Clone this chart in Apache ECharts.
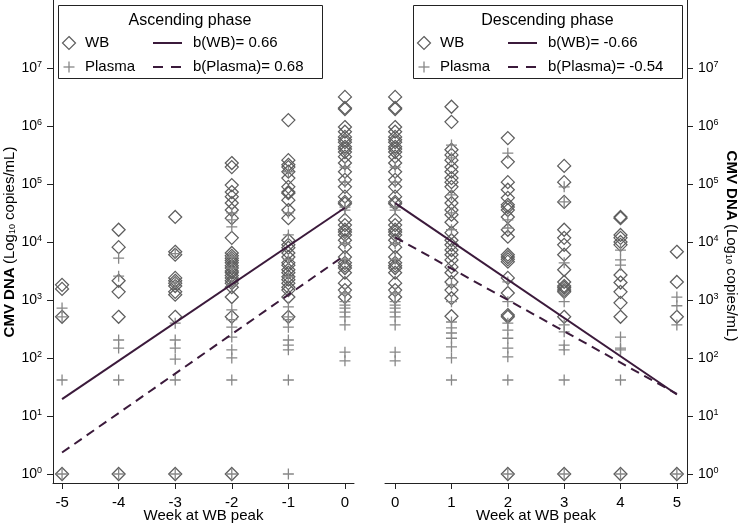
<!DOCTYPE html>
<html><head><meta charset="utf-8">
<script src="https://cdn.jsdelivr.net/npm/echarts@6/dist/echarts.min.js"></script>
<style>html,body{margin:0;padding:0;background:#fff}#c{width:740px;height:525px}</style>
</head><body><div id="c"></div>
<script>
// ---- data (log10 copies/mL), one inner array per week ----
const weeksAsc = [-5, -4, -3, -2, -1, 0];
const weeksDesc = [0, 1, 2, 3, 4, 5];
const yTickExps = [0, 1, 2, 3, 4, 5, 6, 7];

const wbWeek0 = [6.5, 6.31, 6.29, 5.98, 5.9, 5.81, 5.76, 5.72, 5.64, 5.6, 5.55, 5.47, 5.36, 5.21, 5.07, 4.95, 4.78, 4.69, 4.66, 4.38, 4.29, 4.21, 4.17, 4.12, 4.03, 3.91, 3.74, 3.64, 3.59, 3.55, 3.47, 3.29, 3.17, 3.05];
const plasmaWeek0 = [5.29, 5.03, 4.6, 4.55, 3.97, 3.7, 3.12, 2.97, 2.91, 2.86, 2.79, 2.71, 2.57, 2.1, 1.95];

const wbAsc = [
  [3.26, 3.19, 2.71, 0],
  [4.21, 3.91, 3.33, 3.14, 2.71, 0],
  [4.43, 3.83, 3.78, 3.38, 3.33, 3.29, 3.24, 3.14, 3.09, 2.71, 0],
  [5.36, 5.29, 4.98, 4.86, 4.78, 4.67, 4.55, 4.41, 4.07, 3.81, 3.76, 3.72, 3.68, 3.64, 3.59, 3.55, 3.5, 3.47, 3.42, 3.38, 3.33, 3.29, 3.22, 3.05, 2.71, 0],
  [6.1, 5.41, 5.33, 5.29, 5.21, 5.1, 4.95, 4.86, 4.84, 4.72, 4.55, 4.41, 4.03, 3.95, 3.9, 3.81, 3.74, 3.64, 3.6, 3.52, 3.47, 3.4, 3.35, 3.29, 3.22, 3.17, 3.05, 2.71],
  wbWeek0
];
const plasmaAsc = [
  [2.86, 2.71, 1.62, 0],
  [3.72, 3.41, 2.31, 2.17, 1.62, 0],
  [3.8, 3.3, 2.6, 2.31, 2.17, 1.98, 1.62, 0],
  [4.5, 4.38, 4.26, 3.74, 3.55, 3.26, 2.83, 2.66, 2.53, 2.36, 2.14, 2.0, 1.62, 0],
  [5.21, 4.5, 4.12, 3.7, 3.4, 2.88, 2.71, 2.66, 2.53, 2.31, 2.22, 2.14, 1.62, 0],
  plasmaWeek0
];
const wbDesc = [
  wbWeek0,
  [6.33, 6.07, 5.59, 5.5, 5.41, 5.29, 5.21, 5.1, 5.03, 4.95, 4.78, 4.67, 4.55, 4.47, 4.34, 4.16, 4.03, 3.95, 3.86, 3.78, 3.69, 3.57, 3.47, 3.31, 3.17, 3.03, 2.72],
  [5.79, 5.38, 5.03, 4.9, 4.76, 4.64, 4.6, 4.55, 4.43, 4.21, 4.09, 3.78, 3.74, 3.7, 3.66, 3.38, 3.12, 2.74, 2.71, 0],
  [5.31, 5.03, 4.69, 4.21, 4.07, 3.95, 3.78, 3.52, 3.31, 3.24, 3.21, 3.17, 3.14, 2.71, 0],
  [4.43, 4.41, 4.12, 4.07, 4.0, 3.95, 3.43, 3.3, 3.14, 2.95, 2.71, 0],
  [3.83, 3.31, 2.71, 0]
];
const plasmaDesc = [
  plasmaWeek0,
  [5.67, 5.45, 4.81, 4.5, 4.21, 3.26, 2.97, 2.62, 2.52, 2.43, 2.34, 2.19, 2.0, 1.62],
  [5.53, 4.38, 4.24, 3.31, 2.97, 2.6, 2.48, 2.34, 2.17, 2.02, 1.62, 0],
  [4.95, 4.69, 3.64, 2.97, 2.57, 2.45, 2.22, 2.14, 1.62, 0],
  [3.86, 3.69, 3.6, 2.36, 2.17, 2.14, 1.62, 0],
  [3.05, 2.9, 2.57, 0]
];
// fitted regression lines (week, log10 value) at the ends
const fitAscWB = [[-5, 1.29], [0, 4.59]];
const fitAscPlasma = [[-5, 0.37], [0, 3.77]];
const fitDescWB = [[0, 4.67], [5, 1.37]];
const fitDescPlasma = [[0, 4.08], [5, 1.38]];

const legendAsc = ['Ascending phase', 'WB', 'Plasma', 'b(WB)= 0.66', 'b(Plasma)= 0.68'];
const legendDesc = ['Descending phase', 'WB', 'Plasma', 'b(WB)= -0.66', 'b(Plasma)= -0.54'];
const yTitle = '{b|CMV DNA} {n|(Log}{s|10}{n| copies/mL)}';
const xTitle = 'Week at WB peak';

// ---- styling ----
const FONT = '"Liberation Sans", Arial, Helvetica, sans-serif';
const LINE_COLOR = '#3b1a3b';
const DIAMOND_COLOR = '#5e5e5e';
const PLUS_COLOR = '#878787';
const PLUS_PATH = 'path://M0,6L12,6M6,0L6,12';

function pts(weeks, arrs) {
  const out = [];
  weeks.forEach((w, i) => arrs[i].forEach(v => out.push([w, v])));
  return out;
}

const chart = echarts.init(document.getElementById('c'), null, {renderer: 'canvas'});

function xAxisCfg(gi, min, max, ticks) {
  return {
    gridIndex: gi, type: 'value', min: min, max: max,
    axisLine: {show: true, onZero: false, lineStyle: {color: '#222', width: 1}},
    axisTick: {show: true, length: 6, customValues: ticks, lineStyle: {color: '#222'}},
    axisLabel: {customValues: ticks, fontSize: 15, color: '#000', fontFamily: FONT, margin: 12},
    splitLine: {show: false},
    name: xTitle, nameLocation: 'middle', nameGap: 25, nameMoveOverlap: false,
    nameTextStyle: {fontSize: 15, color: '#000', fontFamily: FONT}
  };
}
function yAxisCfg(gi, pos) {
  return {
    gridIndex: gi, type: 'value', position: pos, min: -0.155, max: 8.17,
    axisLine: {show: true, onZero: false, lineStyle: {color: '#222', width: 1}},
    axisTick: {show: true, length: 6, customValues: yTickExps, lineStyle: {color: '#222'}},
    axisLabel: {
      customValues: yTickExps, margin: 11, fontFamily: FONT, color: '#000',
      formatter: v => '{b|10}{s|' + v + '}',
      rich: {b: {fontSize: 14, color: '#000', fontFamily: FONT, lineHeight: 16},
             s: {fontSize: 9, color: '#000', fontFamily: FONT, verticalAlign: 'top', lineHeight: 9}}
    },
    splitLine: {show: false}
  };
}
function scatterWB(gi, data) {
  return {type: 'scatter', xAxisIndex: gi, yAxisIndex: gi, data: data, symbol: 'diamond',
    symbolSize: [13, 13], silent: true, z: 2,
    itemStyle: {color: 'rgba(0,0,0,0)', borderColor: DIAMOND_COLOR, borderWidth: 1.25, opacity: 1}};
}
function scatterPl(gi, data) {
  return {type: 'scatter', xAxisIndex: gi, yAxisIndex: gi, data: data, symbol: PLUS_PATH,
    symbolSize: 11, silent: true, z: 3,
    itemStyle: {color: 'rgba(0,0,0,0)', borderColor: PLUS_COLOR, borderWidth: 1.3, opacity: 1}};
}
function fitLine(gi, data, dashed) {
  return {type: 'line', xAxisIndex: gi, yAxisIndex: gi, data: data, symbol: 'none', silent: true, z: 4,
    lineStyle: {color: LINE_COLOR, width: 2, type: dashed ? [9, 6] : 'solid'}};
}

function legendBox(x0, w, texts) {
  const cx = x0 + w / 2;
  const els = [];
  els.push({type: 'rect', shape: {x: x0 + 0.5, y: 5.5, width: w, height: 73},
    style: {fill: '#fff', stroke: '#222', lineWidth: 1}});
  els.push({type: 'text', x: cx, y: 21, style: {text: texts[0], fontSize: 16, fontFamily: FONT,
    fill: '#000', align: 'center', verticalAlign: 'middle'}});
  const mx = x0 + 11, r1 = 43, r2 = 67;
  els.push({type: 'polygon', shape: {points: [[mx, r1 - 6.5], [mx + 6.5, r1], [mx, r1 + 6.5], [mx - 6.5, r1]]},
    style: {fill: 'none', stroke: DIAMOND_COLOR, lineWidth: 1.2}});
  els.push({type: 'line', shape: {x1: mx - 5.5, y1: r2, x2: mx + 5.5, y2: r2}, style: {stroke: PLUS_COLOR, lineWidth: 1.3}});
  els.push({type: 'line', shape: {x1: mx, y1: r2 - 5.5, x2: mx, y2: r2 + 5.5}, style: {stroke: PLUS_COLOR, lineWidth: 1.3}});
  els.push({type: 'text', x: x0 + 27, y: r1, style: {text: texts[1], fontSize: 15, fontFamily: FONT, fill: '#000', verticalAlign: 'middle'}});
  els.push({type: 'text', x: x0 + 27, y: r2, style: {text: texts[2], fontSize: 15, fontFamily: FONT, fill: '#000', verticalAlign: 'middle'}});
  const lx = x0 + 95;
  els.push({type: 'line', shape: {x1: lx, y1: r1, x2: lx + 29, y2: r1}, style: {stroke: LINE_COLOR, lineWidth: 2}});
  els.push({type: 'line', shape: {x1: lx, y1: r2, x2: lx + 29, y2: r2}, style: {stroke: LINE_COLOR, lineWidth: 2, lineDash: [10, 8]}});
  els.push({type: 'text', x: lx + 40, y: r1, style: {text: texts[3], fontSize: 15, fontFamily: FONT, fill: '#000', verticalAlign: 'middle'}});
  els.push({type: 'text', x: lx + 40, y: r2, style: {text: texts[4], fontSize: 15, fontFamily: FONT, fill: '#000', verticalAlign: 'middle'}});
  return els;
}

const titleRich = {
  b: {fontSize: 15, fontWeight: 'bold', fontFamily: FONT, fill: '#000', color: '#000'},
  n: {fontSize: 15, fontFamily: FONT, fill: '#000', color: '#000'},
  s: {fontSize: 9, fontFamily: FONT, fill: '#000', color: '#000', verticalAlign: 'bottom'}
};

const option = {
  animation: false,
  backgroundColor: '#fff',
  textStyle: {fontFamily: FONT},
  grid: [
    {left: 53, top: 0, width: 301, height: 483, containLabel: false, outerBoundsMode: 'none'},
    {left: 385, top: 0, width: 302, height: 483, containLabel: false, outerBoundsMode: 'none'}
  ],
  xAxis: [xAxisCfg(0, -5.16, 0.16, weeksAsc), xAxisCfg(1, -0.18, 5.18, weeksDesc)],
  yAxis: [yAxisCfg(0, 'left'), yAxisCfg(1, 'right')],
  series: [
    scatterWB(0, pts(weeksAsc, wbAsc)),
    scatterPl(0, pts(weeksAsc, plasmaAsc)),
    fitLine(0, fitAscWB, false),
    fitLine(0, fitAscPlasma, true),
    scatterWB(1, pts(weeksDesc, wbDesc)),
    scatterPl(1, pts(weeksDesc, plasmaDesc)),
    fitLine(1, fitDescWB, false),
    fitLine(1, fitDescPlasma, true)
  ],
  graphic: [].concat(
    legendBox(58, 264, legendAsc),
    legendBox(413, 269, legendDesc),
    [
      {type: 'text', x: 10, y: 242, rotation: Math.PI / 2,
        style: {text: yTitle, rich: titleRich, align: 'center', verticalAlign: 'middle', fill: '#000'}},
      {type: 'text', x: 731, y: 246, rotation: -Math.PI / 2,
        style: {text: yTitle, rich: titleRich, align: 'center', verticalAlign: 'middle', fill: '#000'}}
    ]
  )
};
chart.setOption(option);
</script>
</body></html>
